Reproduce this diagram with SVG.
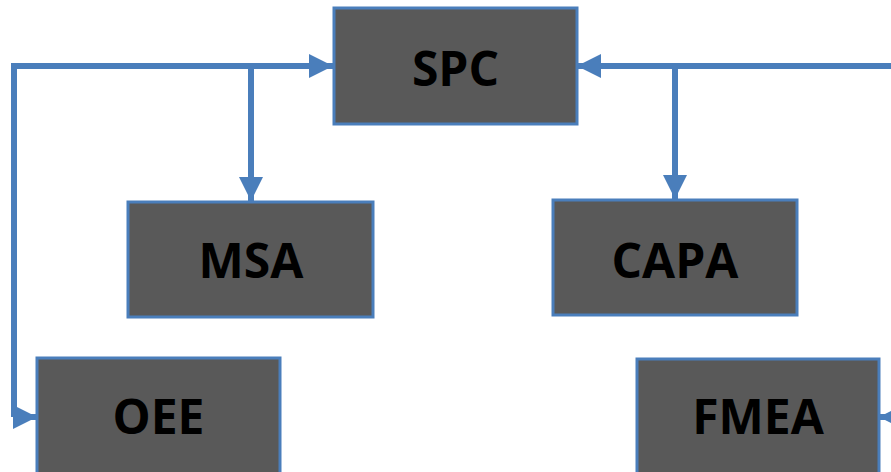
<svg xmlns="http://www.w3.org/2000/svg" width="891" height="472" viewBox="0 0 891 472">
  <style>
    .box { fill: #595959; stroke: #4a7ebb; stroke-width: 3; }
    .label { font-family: "Open Sans", "Liberation Sans", sans-serif; font-weight: bold; font-size: 48px; fill: #000; text-anchor: middle; }
    .link { fill: none; stroke: #4a7ebb; stroke-width: 6; stroke-linejoin: miter; marker-end: url(#head); }
  </style>
  <defs>
    <marker id="head" markerUnits="userSpaceOnUse" viewBox="0 0 24 24" markerWidth="24" markerHeight="24" refX="24" refY="12" orient="auto">
      <path d="M0,0 L24,12 L0,24 z" fill="#4a7ebb"/>
    </marker>
  </defs>
  <rect width="891" height="472" fill="#ffffff"/>

  <!-- connectors -->
  <g id="connectors">
    <path class="link" d="M14,417 V66 H333"/>
    <path class="link" d="M14,417 H37"/>
    <path class="link" d="M251,66 V201"/>
    <path class="link" d="M891,66 H577"/>
    <path class="link" d="M675,66 V199"/>
    <path class="link" d="M905,417 H879"/>
  </g>

  <g id="spc">
    <rect class="box" x="334" y="8" width="243" height="116"/>
    <text class="label" x="455.5" y="86">SPC</text>
  </g>
  <g id="msa">
    <rect class="box" x="128" y="202" width="245" height="115"/>
    <text class="label" x="251" y="278">MSA</text>
  </g>
  <g id="capa">
    <rect class="box" x="553" y="200" width="244" height="115"/>
    <text class="label" x="675" y="278">CAPA</text>
  </g>
  <g id="oee">
    <rect class="box" x="37" y="358" width="243" height="130"/>
    <text class="label" x="158.5" y="434">OEE</text>
  </g>
  <g id="fmea">
    <rect class="box" x="637" y="359" width="242" height="130"/>
    <text class="label" x="758" y="434">FMEA</text>
  </g>
</svg>
